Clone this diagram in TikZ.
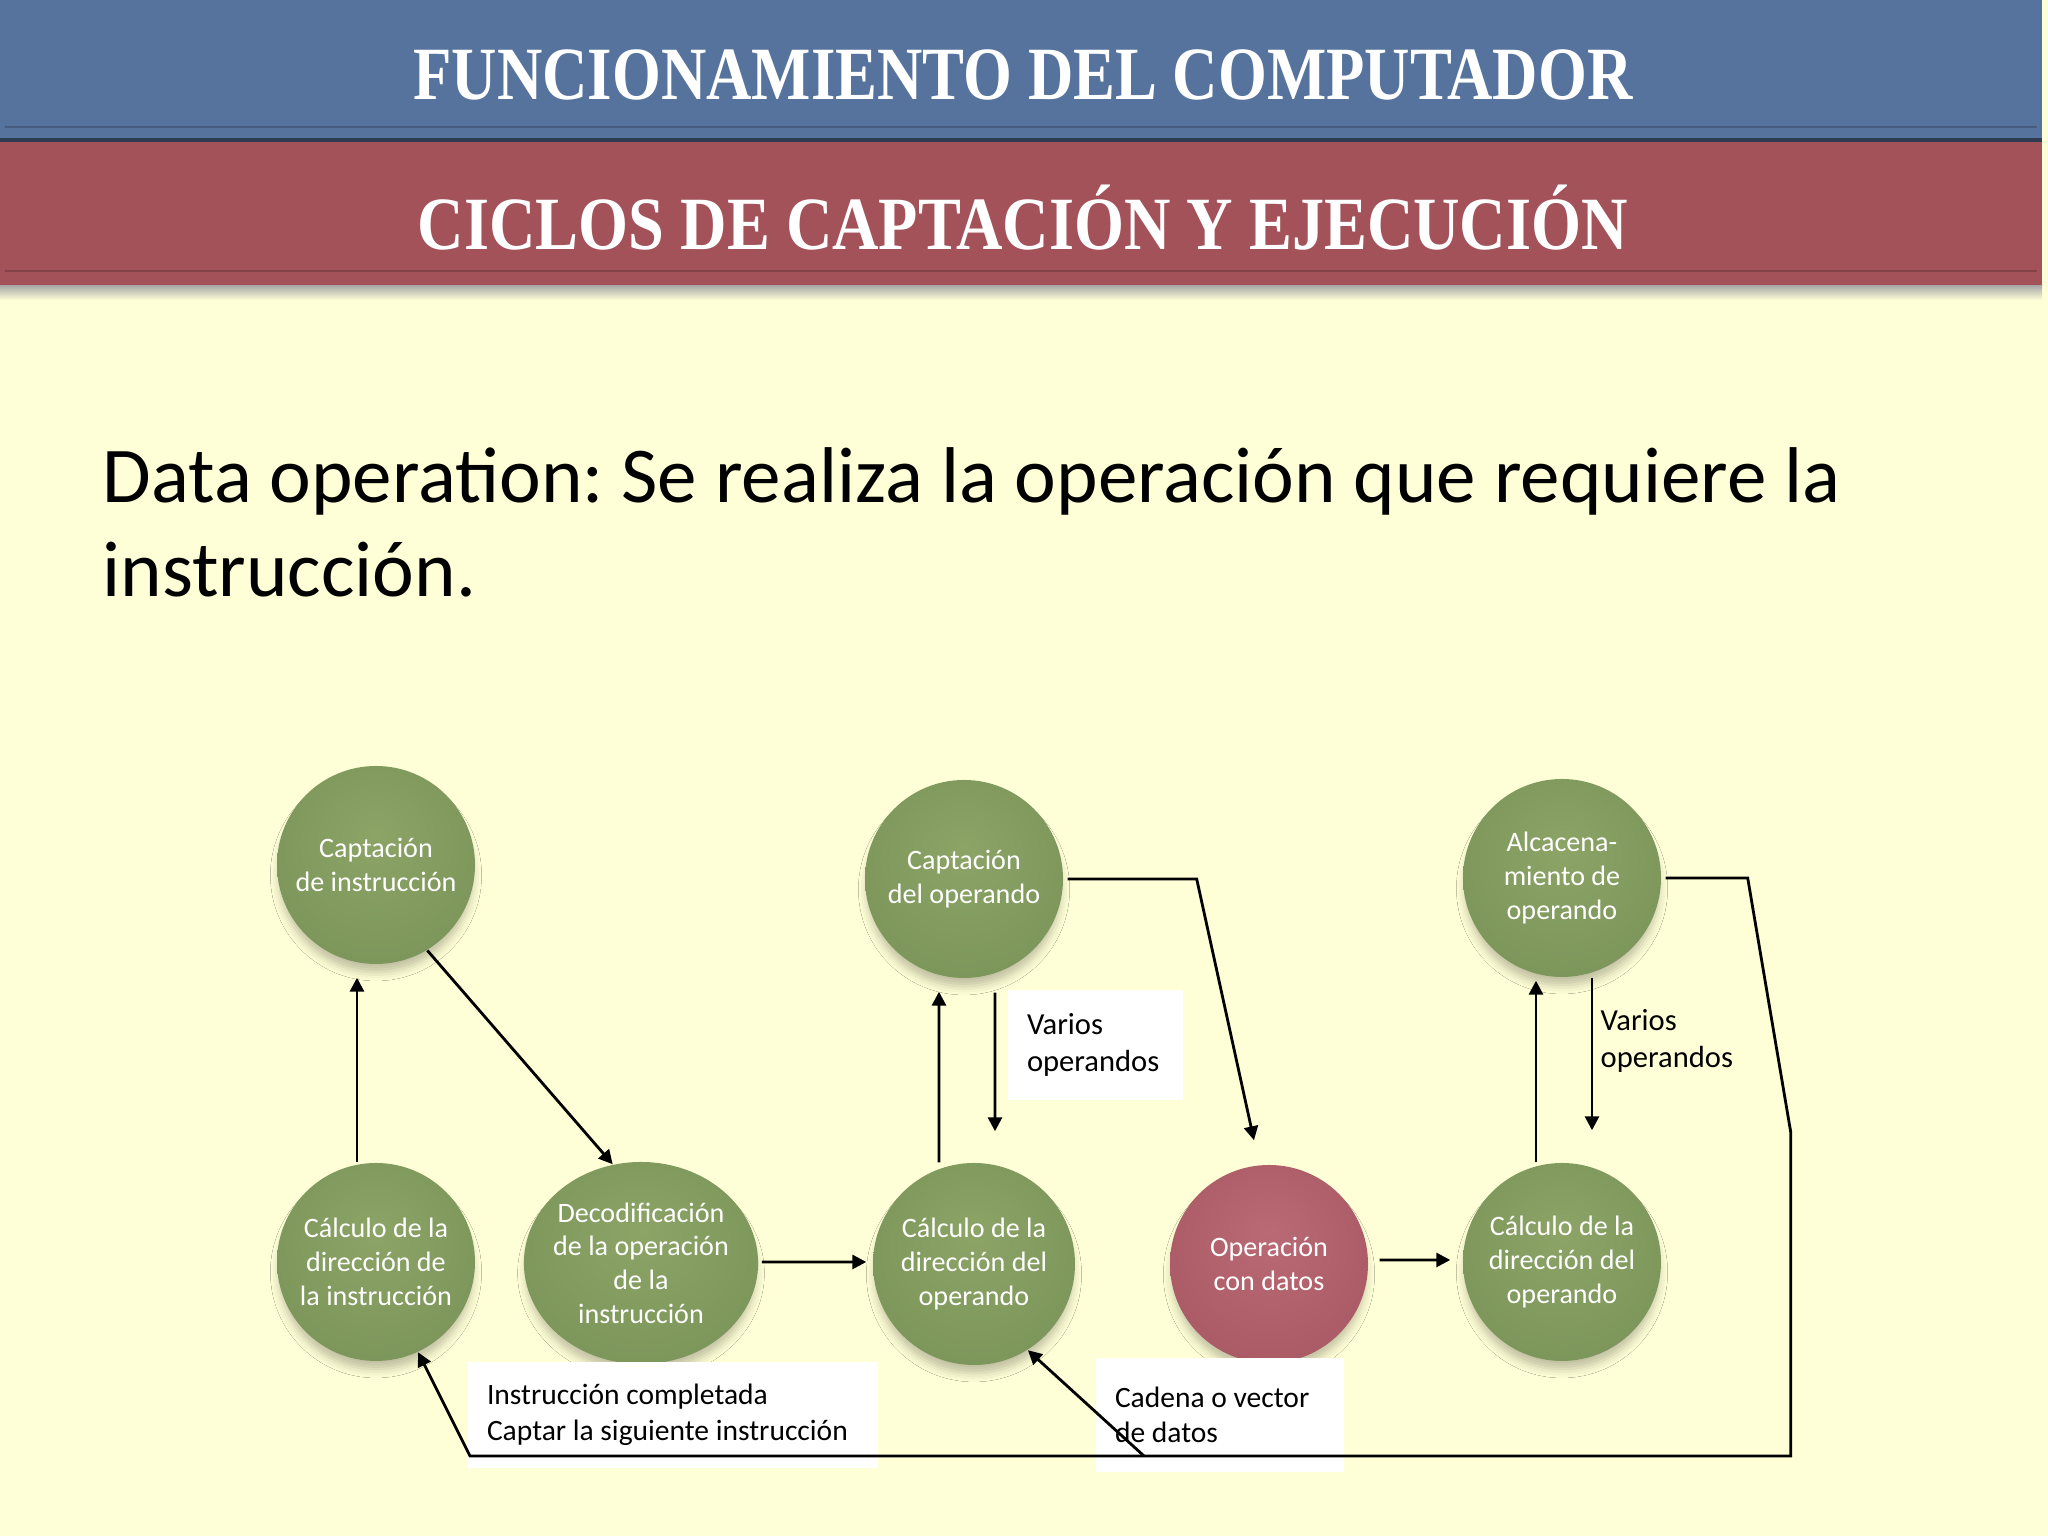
\documentclass[tikz,border=0pt]{standalone}
\usepackage{fontspec}
\setmainfont{Carlito}
\newfontfamily\titlefont{Liberation Serif}
\usetikzlibrary{calc,arrows.meta,shapes.geometric,shadows.blur}
\frenchspacing

\definecolor{bgcream}{HTML}{FFFFD7}
\definecolor{bannerblue}{HTML}{56739D}
\definecolor{bannerred}{HTML}{A3525A}
\definecolor{bannerline}{HTML}{2E3B50}
\definecolor{greenA}{RGB}{140,164,102}
\definecolor{greenB}{RGB}{124,149,90}
\definecolor{greenC}{RGB}{112,137,78}
\definecolor{greenD}{RGB}{102,126,70}
\definecolor{redA}{RGB}{186,106,116}
\definecolor{redB}{RGB}{170,90,101}
\definecolor{redC}{RGB}{155,77,88}
\definecolor{redD}{RGB}{144,69,81}

\pgfdeclareradialshading{greenball}{\pgfpoint{0bp}{8bp}}{%
  color(0bp)=(greenA); color(30bp)=(greenB); color(45bp)=(greenC); color(50bp)=(greenD)}
\pgfdeclareradialshading{redball}{\pgfpoint{0bp}{8bp}}{%
  color(0bp)=(redA); color(30bp)=(redB); color(45bp)=(redC); color(50bp)=(redD)}

\tikzset{
  stage/.style={circle, minimum size=1.98cm, inner sep=0pt, align=center,
    text=white, font=\fontsize{8}{9.6}\selectfont, shading=greenball,
    blur shadow={shadow xshift=0pt, shadow yshift=-3pt, shadow scale=0.98,
      shadow blur radius=2.5pt, shadow opacity=25}},
  datastage/.style={stage, shading=redball},
  note/.style={fill=white, align=flush left, inner xsep=0.19cm, inner ysep=0pt,
    font=\fontsize{8.4}{10.1}\selectfont},
  arr/.style={-{Triangle[length=1.4mm,width=1.4mm]}, line width=0.8pt},
  banner/.style={text=white, font=\titlefont\bfseries\fontsize{21.4}{24}\selectfont}
}

\begin{document}
\begin{tikzpicture}
\useasboundingbox (0,0) rectangle (20.48,15.36);
\fill[bgcream] (0,0) rectangle (20.48,15.36);

% cabecera
\shade[top color=black!35, bottom color=bgcream] (0,12.51) rectangle (20.42,12.36);
\fill[bannerline] (0,15.36) rectangle (20.42,13.94);
\fill[bannerblue] (0,15.36) rectangle (20.42,13.98);
\fill[bannerblue!80!black] (0.05,14.08) rectangle (20.37,14.10);
\fill[bannerred] (0,13.94) rectangle (20.42,12.51);
\fill[bannerred!80!black] (0.05,12.64) rectangle (20.37,12.66);
\node[banner] (tit1) at (10.23,14.61) {\scalebox{0.835}[1]{FUNCIONAMIENTO DEL COMPUTADOR}};
\node[banner] (tit2) at (10.23,13.18) {\scalebox{0.855}[1]{CICLOS DE CAPTACIÓN Y EJECUCIÓN}};

% texto
\node[anchor=base west, inner sep=0pt, align=flush left,
  font=\fontsize{22.5}{26.9}\selectfont] (texto) at (1.02,9.39)
  {Data operation: Se realiza la operación que requiere la\\instrucción.};

% etapas
\node[stage] (captinst) at (3.76,6.71) {Captación\\de instrucción};
\node[stage] (calcinst) at (3.76,2.74) {Cálculo de la\\dirección de\\la instrucción};
\node[stage, ellipse, minimum width=2.22cm, minimum height=2.02cm, inner xsep=-0.05cm]
  (decod) at (6.41,2.73) {Decodificación\\de la operación\\de la\\instrucción};
\node[stage] (captop) at (9.64,6.57) {Captación\\del operando};
\node[stage, minimum size=2.02cm] (calcop) at (9.74,2.72) {Cálculo de la\\dirección del\\operando};
\node[datastage] (opdat) at (12.69,2.72) {Operación\\con datos};
\node[stage] (almop) at (15.62,6.58) {Alcacena-\\miento de\\operando};
\node[stage] (calcop2) at (15.62,2.74) {Cálculo de la\\dirección del\\operando};

% etiquetas
\node[note, text width=1.37cm, minimum height=1.10cm, font=\fontsize{8.7}{10.4}\selectfont]
  (varios) at (10.955,4.91) {Varios\\operandos};
\node[anchor=west, inner sep=0pt, align=flush left, font=\fontsize{8.7}{10.4}\selectfont]
  (varios2) at (16.00,4.95) {Varios\\operandos};
\node[note, text width=3.72cm, minimum height=1.06cm] (completa) at (6.73,1.21)
  {Instrucción completada\\Captar la siguiente instrucción};
\node[note, text width=2.10cm, minimum height=1.14cm] (cadena) at (12.20,1.21)
  {Cadena o vector\\de datos};

\coordinate (retorno) at (4.70,0.80);
\coordinate (ramal) at (11.44,0.80);

% conexiones
\draw[arr] ($(calcinst.north)+(-0.19,0)$) -- ($(captinst.south)+(-0.19,-0.13)$);
\draw[arr] (captinst.-59) -- (decod.106);
\draw[arr] ($(decod.east)+(0.03,0.01)$) -- ($(calcop.west)+(-0.06,0.02)$);
\draw[arr] ($(calcop.north)+(-0.35,0)$) -- ($(captop.south)+(-0.25,-0.13)$);
\draw[arr] ($(captop.south)+(0.31,-0.14)$) -- ($(calcop.north)+(0.21,0.31)$);
\draw[arr] ($(captop.east)+(0.04,0)$) -- ++(1.29,0) -- ($(opdat.north)+(-0.15,0.24)$);
\draw[arr] ($(opdat.east)+(0.11,0.04)$) -- ($(calcop2.west)+(-0.12,0.02)$);
\draw[arr] ($(calcop2.north)+(-0.26,0)$) -- ($(almop.south)+(-0.26,-0.03)$);
\draw[arr] ($(almop.south)+(0.30,0)$) -- ($(calcop2.north)+(0.30,0.32)$);
\draw[arr] ($(almop.east)+(0.04,0)$) -- ++(0.82,0) -- ++(0.43,-2.54) |- (retorno) -- (calcinst.-65);
\draw[arr] (ramal) -- (calcop.-58);
\end{tikzpicture}
\end{document}
